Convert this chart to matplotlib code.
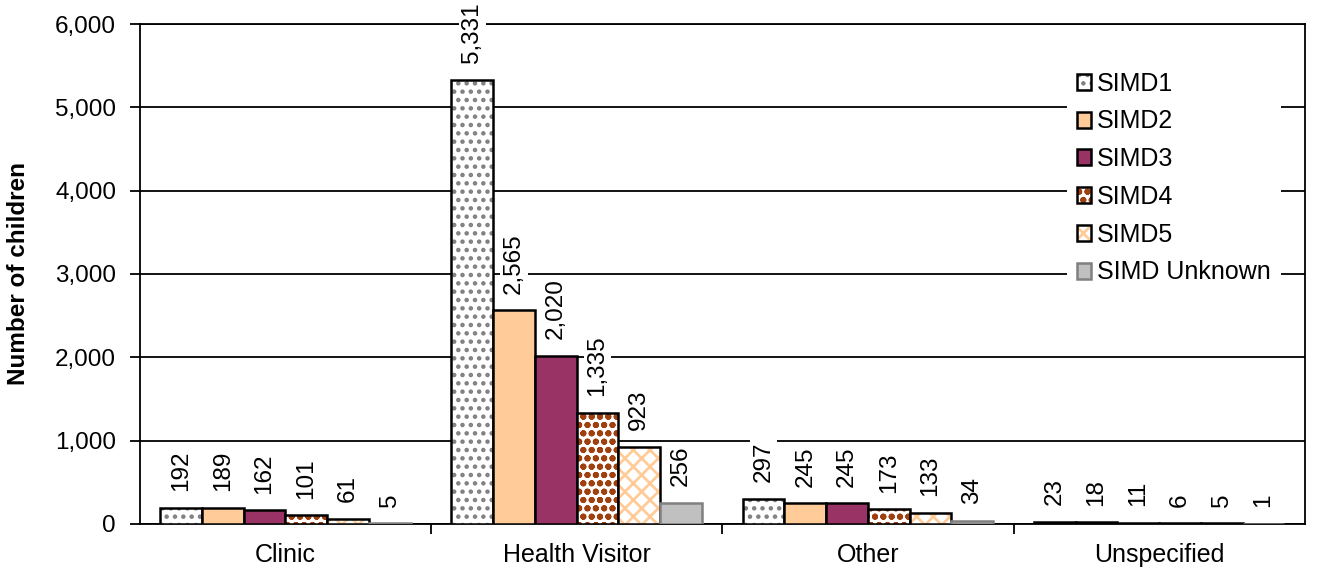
import numpy as np
import matplotlib.pyplot as plt
from matplotlib.colors import to_rgba
from matplotlib.ticker import FuncFormatter

plt.rcParams['font.family'] = ['Liberation Sans', 'DejaVu Sans']
plt.rcParams['hatch.linewidth'] = 2.0

categories = ["Clinic", "Health Visitor", "Other", "Unspecified"]
series = ["SIMD1", "SIMD2", "SIMD3", "SIMD4", "SIMD5", "SIMD Unknown"]
simd1 = [192, 5331, 297, 23]
simd2 = [189, 2565, 245, 18]
simd3 = [162, 2020, 245, 11]
simd4 = [101, 1335, 173, 6]
simd5 = [61, 923, 133, 5]
simd_unknown = [5, 256, 34, 1]
values = [simd1, simd2, simd3, simd4, simd5, simd_unknown]

faces = ["white", "#FFCC99", "#993366", "white", "white", "#C0C0C0"]
hatches = ["..", None, None, "oo", "xx", None]
hatch_cols = ["#808080", None, None, "#A0400F", "#FFCC99", None]
edges = ["black", "black", "black", "black", "black", "#808080"]

fig = plt.figure(figsize=(13.18, 5.75), dpi=100)
ax = fig.add_axes([0.106, 0.089, 0.884, 0.869])

x = np.arange(len(categories))
n = len(series)
w = 0.86 / n
for i in range(n):
    pos = x - 0.43 + w * (i + 0.5)
    bars = ax.bar(pos, values[i], w, color=faces[i], edgecolor=edges[i],
                  linewidth=1.8, label=series[i], zorder=3)
    if hatches[i]:
        for b in bars:
            b.set_hatch(hatches[i])
            b._hatch_color = to_rgba(hatch_cols[i])
    for p, v in zip(pos, values[i]):
        ax.annotate(f"{v:,}", (p, v), xytext=(0, 12), textcoords="offset points",
                    rotation=90, ha="center", va="bottom", fontsize=17.5, zorder=4,
                    bbox=dict(facecolor="white", edgecolor="none", pad=2))

ax.set_xlim(-0.5, len(categories) - 0.5)
ax.set_ylim(0, 6000)
ax.set_yticks(np.arange(0, 6001, 1000))
ax.yaxis.set_major_formatter(FuncFormatter(lambda v, p: f"{int(v):,}"))
ax.yaxis.grid(True, color="black", linewidth=1.3, zorder=0)
ax.set_axisbelow(True)
ax.tick_params(axis="y", length=7, width=1.3, labelsize=17.5, direction="out", pad=10)

ax.set_xticks(x)
ax.set_xticklabels(categories, fontsize=18)
ax.tick_params(axis="x", which="major", length=0, pad=14)
ax.set_xticks(np.arange(0.5, len(categories) - 0.5, 1), minor=True)
ax.tick_params(axis="x", which="minor", length=7, width=1.3, direction="out")

for s in ax.spines.values():
    s.set_linewidth(1.3)

ax.set_ylabel("Number of children", fontsize=17.5, fontweight="bold", labelpad=18)

leg = ax.legend(loc="upper right", bbox_to_anchor=(0.99, 0.95), fontsize=18,
                frameon=True, fancybox=False, framealpha=1, handlelength=0.55,
                handleheight=0.6, handletextpad=0.25, labelspacing=0.55, borderpad=0.4)
leg.get_frame().set_facecolor("white")
leg.get_frame().set_edgecolor("none")
leg.set_zorder(5)

fig.savefig("out.png", dpi=100)
